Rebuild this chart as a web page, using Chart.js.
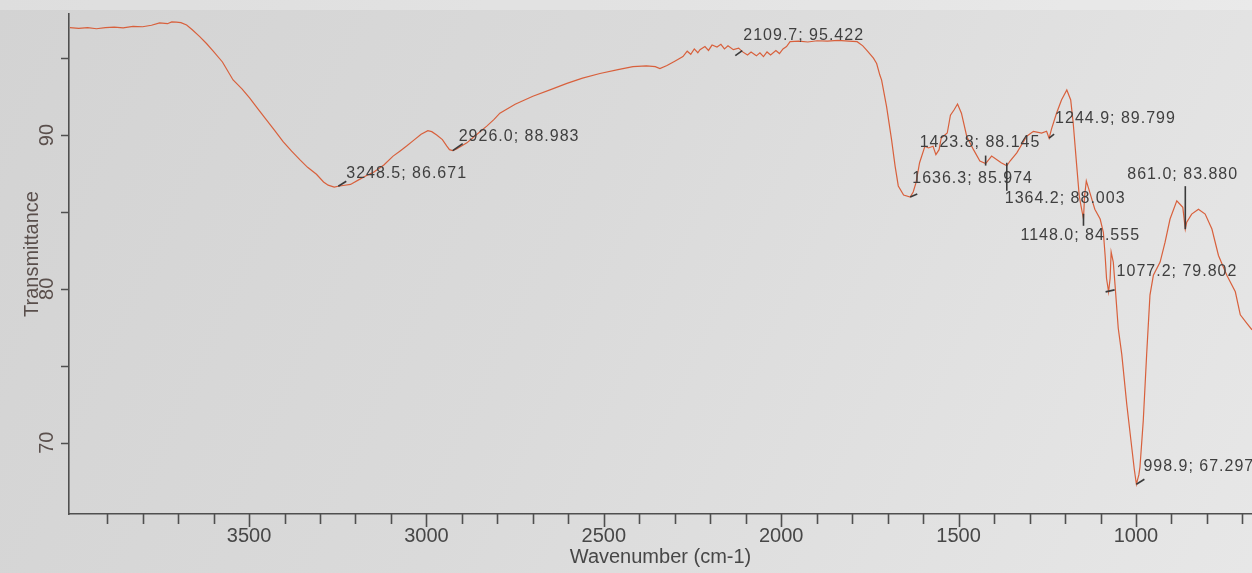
<!DOCTYPE html>
<html>
<head>
<meta charset="utf-8">
<script src="https://cdn.jsdelivr.net/npm/chart.js@4.4.1/dist/chart.umd.min.js"></script>
<style>
html,body{margin:0;padding:0;background:#dcdcdc;overflow:hidden;}
canvas{display:block;}
</style>
</head>
<body>
<canvas id="c" width="1252" height="573"></canvas>
<script>
// ---- data ----
const wavenumbers = [
  4005,3980,3955,3930,3905,3880,3855,3827,3800,3775,3752,3730,3718,3705,3692,3676,3660,3639,3620,3601,
  3575,3545,3520,3498,3475,3451,3428,3404,3380,3357,3335,3310,3290,3277,3260,3248.5,3235,3214,3190,3170,
  3150,3120,3094,3075,3055,3038,3015,2996,2985,2971,2955,2943,2935,2926,2915,2900,2886,2860,2830,2810,
  2793,2750,2700,2650,2604,2560,2511,2460,2418,2380,2355,2342,2322,2300,2277,2265,2255,2245,2235,2229,
  2215,2205,2195,2181,2170,2160,2150,2135,2120,2109.7,2095,2085,2070,2060,2050,2040,2030,2015,2005,1995,
  1985,1975,1950,1925,1899,1870,1840,1810,1786,1770,1758,1740,1731,1722,1717,1703,1689,1679,1670,1655,
  1636.3,1628,1620,1610,1595,1585,1572,1564,1555,1549,1532,1523,1513,1503,1492,1477,1458,1440,1423.8,1407,
  1393,1380,1364.2,1355,1336,1308,1289,1266,1252,1244.9,1238,1224,1210,1195,1184,1177,1167,1160,1155,1148,
  1145,1140,1130,1116,1101,1092,1087,1083,1077.2,1073,1070,1064,1059,1050,1040,1026,1012,1005,998.9,992,
  988.8,979.5,970,960.6,951,932,918,904,885,876,868,861,857,843,824,805,786,767.5,744,720,
  706,688,673
];
const transmittance = [
  96.98,96.93,96.99,96.91,96.98,97.02,96.97,97.06,97.04,97.14,97.29,97.24,97.36,97.34,97.31,97.15,96.85,96.40,95.95,95.46,
  94.75,93.58,93.00,92.40,91.70,90.99,90.30,89.57,88.95,88.40,87.90,87.45,86.95,86.74,86.62,86.671,86.72,86.79,87.10,87.35,
  87.57,88.05,88.63,88.95,89.30,89.62,90.05,90.28,90.22,90.00,89.70,89.29,89.05,88.983,89.10,89.30,89.49,90.00,90.58,91.00,
  91.42,92.00,92.52,92.95,93.36,93.70,94.00,94.25,94.45,94.50,94.45,94.32,94.52,94.80,95.10,95.45,95.25,95.60,95.35,95.55,
  95.75,95.50,95.85,95.72,95.90,95.60,95.80,95.55,95.65,95.422,95.20,95.40,95.15,95.35,95.10,95.40,95.20,95.50,95.30,95.60,
  95.75,96.07,96.10,96.05,96.13,96.10,96.15,96.10,96.07,95.80,95.49,95.00,94.65,93.90,93.57,91.85,89.70,87.98,86.69,86.10,
  85.974,86.30,86.91,88.20,89.27,89.16,89.27,88.73,89.05,89.81,90.13,91.29,91.63,92.02,91.42,89.91,89.05,88.31,88.145,88.63,
  88.41,88.20,88.003,88.31,88.84,89.92,90.24,90.13,90.25,89.799,90.40,91.42,92.28,92.93,92.28,90.78,87.98,86.05,85.40,84.555,
  86.00,87.02,86.26,85.18,84.54,83.68,82.17,80.67,79.802,80.67,82.39,81.74,80.24,77.44,75.72,72.50,69.70,68.30,67.297,67.90,
  68.41,71.42,75.72,79.59,80.88,81.74,83.03,84.54,85.72,85.50,85.30,83.88,84.33,84.86,85.18,84.86,83.89,82.17,80.88,79.81,
  78.31,77.77,77.34
];
// tick values and labels
const xTickValues = [3900,3800,3700,3600,3500,3400,3300,3200,3100,3000,2900,2800,2700,2600,2500,2400,2300,2200,2100,2000,
                     1900,1800,1700,1600,1500,1400,1300,1200,1100,1000,900,800,700];
const xTickLabels = [3500,3000,2500,2000,1500,1000];
const yTickValues = [70,75,80,85,90,95];
const yTickLabels = [70,80,90];
const yAxisTitle = 'Transmittance';
const xAxisTitle = 'Wavenumber (cm-1)';
// labelled peaks
const peakWavenumbers = [3248.5,2926.0,2109.7,1636.3,1423.8,1364.2,1244.9,1148.0,1077.2,998.9,861.0];
const peakTransmittance = [86.671,88.983,95.422,85.974,88.145,88.003,89.799,84.555,79.802,67.297,83.880];

// ---- styles (offsets in px relative to the peak point) ----
const peakLabelOffsets = [[8,-13],[6,-14.5],[1,-16],[2,-18.5],[-66,-21],[-2,33],[6,-20],[-63,17],[8,-20],[7,-18],[-58,-55]];
const peakMarkers = [[0,0,8,-5],[0,0,10,-7],[-7,4,0,-1],[0,0,7,-3],[0,-8,0,2],[0,-3,0,25],[0,0,5,-4],[0,-5,0,7],[-3,0,6,-2],[0,0,8,-5],[0,-43,0,0]];

const FONT = '"Liberation Sans", Arial, Helvetica, sans-serif';
const TEXT = '#474747';
const AXIS = '#4f4f4f';
const YTEXT = '#5a4f4c';

const backgroundPlugin = {
  id: 'bg',
  beforeDraw(chart) {
    const {ctx, width, height} = chart;
    ctx.save();
    const g = ctx.createLinearGradient(0, 0, width, height);
    g.addColorStop(0, '#d3d3d3');
    g.addColorStop(0.45, '#dadada');
    g.addColorStop(1, '#e7e7e7');
    ctx.fillStyle = g;
    ctx.fillRect(0, 0, width, height);
    ctx.fillStyle = 'rgba(255,255,255,0.25)';
    ctx.fillRect(0, 0, width, 10);
    ctx.restore();
  }
};

const tickMarksPlugin = {
  id: 'tickMarks',
  afterDraw(chart) {
    const {ctx, chartArea} = chart;
    const xs = chart.scales.x, ys = chart.scales.y;
    ctx.save();
    ctx.strokeStyle = AXIS;
    ctx.lineWidth = 1.6;
    ctx.beginPath();
    xTickValues.forEach(v => {
      const px = Math.round(xs.getPixelForValue(v)) + 0.5;
      const len = xTickLabels.includes(v) ? 13 : 10;
      ctx.moveTo(px, chartArea.bottom);
      ctx.lineTo(px, chartArea.bottom + len);
    });
    yTickValues.forEach(v => {
      const py = Math.round(ys.getPixelForValue(v)) + 0.5;
      ctx.moveTo(chartArea.left, py);
      ctx.lineTo(chartArea.left - 8, py);
    });
    ctx.stroke();
    // y axis title, slightly above the chart-area centre as in the source
    ctx.fillStyle = YTEXT;
    ctx.font = '20px ' + FONT;
    ctx.textAlign = 'center';
    ctx.textBaseline = 'middle';
    ctx.translate(32, (chartArea.top + chartArea.bottom) / 2 - 10);
    ctx.rotate(-Math.PI / 2);
    ctx.fillText(yAxisTitle, 0, 0);
    ctx.restore();
  }
};

const peakLabelPlugin = {
  id: 'peakLabels',
  afterDatasetsDraw(chart) {
    const {ctx} = chart;
    const xs = chart.scales.x, ys = chart.scales.y;
    ctx.save();
    ctx.strokeStyle = '#3a3a3a';
    ctx.lineWidth = 1.6;
    ctx.fillStyle = '#3f3f3f';
    ctx.font = '16px ' + FONT;
    if ('letterSpacing' in ctx) ctx.letterSpacing = '1px';
    ctx.textAlign = 'left';
    ctx.textBaseline = 'middle';
    peakWavenumbers.forEach((w, i) => {
      const px = xs.getPixelForValue(w);
      const py = ys.getPixelForValue(peakTransmittance[i]);
      const m = peakMarkers[i];
      ctx.beginPath();
      ctx.moveTo(px + m[0], py + m[1]);
      ctx.lineTo(px + m[2], py + m[3]);
      ctx.stroke();
      const o = peakLabelOffsets[i];
      const label = w.toFixed(1) + '; ' + peakTransmittance[i].toFixed(3);
      ctx.fillText(label, px + o[0], py + o[1]);
    });
    ctx.restore();
  }
};

new Chart(document.getElementById('c').getContext('2d'), {
  type: 'line',
  data: {
    datasets: [{
      data: wavenumbers.map((w, i) => ({x: w, y: transmittance[i]})),
      borderColor: '#d8603c',
      borderWidth: 1.2,
      pointRadius: 0,
      tension: 0,
      fill: false
    }]
  },
  options: {
    responsive: false,
    animation: false,
    devicePixelRatio: 1,
    layout: {padding: {top: 10, right: 0, left: 0, bottom: 0}},
    plugins: {legend: {display: false}, tooltip: {enabled: false}},
    scales: {
      x: {
        type: 'linear',
        reverse: true,
        min: 673,
        max: 4007.5,
        afterBuildTicks: s => { s.ticks = xTickValues.map(v => ({value: v})); },
        afterFit: s => { s.height = 59; },
        ticks: {
          autoSkip: false, maxRotation: 0, minRotation: 0, padding: 0,
          color: TEXT, font: {family: FONT, size: 20},
          callback: v => xTickLabels.includes(v) ? String(v) : ''
        },
        grid: {display: true, drawOnChartArea: false, drawTicks: true, tickLength: 10, color: 'rgba(0,0,0,0)'},
        border: {display: true, color: AXIS, width: 1.6},
        title: {display: true, text: xAxisTitle, color: TEXT, font: {family: FONT, size: 20}, padding: {top: 0, bottom: 4}}
      },
      y: {
        type: 'linear',
        min: 65.36,
        max: 97.87,
        afterBuildTicks: s => { s.ticks = yTickValues.map(v => ({value: v})); },
        afterFit: s => { s.width = 69; },
        ticks: {
          autoSkip: false, minRotation: 90, maxRotation: 90, crossAlign: 'center', padding: 2,
          color: YTEXT, font: {family: FONT, size: 20},
          callback: v => yTickLabels.includes(v) ? String(v) : ''
        },
        grid: {display: true, drawOnChartArea: false, drawTicks: true, tickLength: 8, color: 'rgba(0,0,0,0)'},
        border: {display: true, color: AXIS, width: 1.6},
        title: {display: false}
      }
    }
  },
  plugins: [backgroundPlugin, tickMarksPlugin, peakLabelPlugin]
});
</script>
</body>
</html>
